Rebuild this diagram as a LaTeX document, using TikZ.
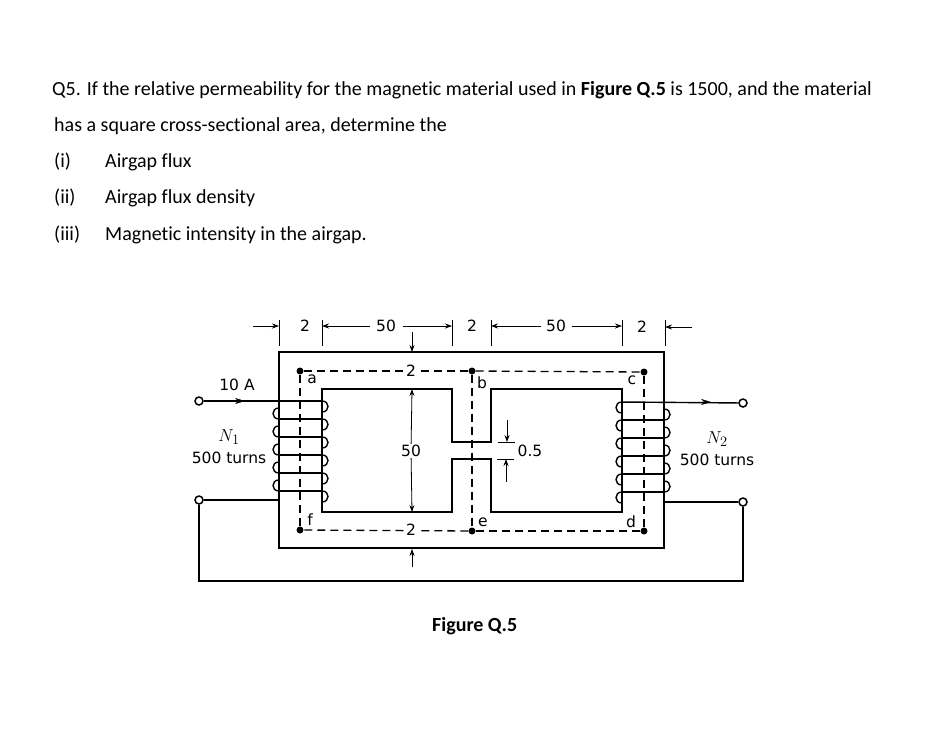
\documentclass[tikz,border=0pt]{standalone}
\usepackage{fontspec}
\setmainfont[Ligatures=CommonOff]{Carlito}
\newfontfamily\figfont{DejaVu Sans}
\usetikzlibrary{arrows.meta}
\tikzset{
    wire/.style={line width=1.4pt},
    dim/.style={line width=0.8pt,-{Stealth[length=7pt,width=5pt]}},
    tick/.style={line width=1pt},
    flux/.style={line width=1.3pt,dash pattern=on 8pt off 5pt},
    pt/.style={circle,fill=black,inner sep=0pt,minimum size=7pt},
    term/.style={circle,draw=black,fill=white,line width=1.5pt,inner sep=0pt,minimum size=8pt},
    qtext/.style={anchor=base west,inner sep=0pt,font=\fontsize{20}{22}\selectfont},
    lab/.style={inner sep=1pt,font=\figfont\fontsize{15.5}{17}\selectfont},
    gaplab/.style={lab,fill=white,inner sep=1pt}
}
\begin{document}
\begin{tikzpicture}[x=1pt,y=-1pt]
    \useasboundingbox (0,0) rectangle (934,728);

    % question
    \node[qtext] (qa) at (52,95) {Q5. If the relative permeability for the magnetic material used in \textbf{Figure Q.5} is 1500, and the material};
    \node[qtext] (qb) at (54,131) {has a square cross-sectional area, determine the};
    \node[qtext] (qc) at (54,167) {(i)};
    \node[qtext] (qd) at (105,167) {Airgap flux};
    \node[qtext] (qe) at (54,203) {(ii)};
    \node[qtext] (qf) at (105,203) {Airgap flux density};
    \node[qtext] (qg) at (54,240) {(iii)};
    \node[qtext] (qh) at (105,240) {Magnetic intensity in the airgap.};
    \node[qtext,font=\fontsize{20}{22}\selectfont\bfseries] (cap) at (432,631) {Figure Q.5};

    % core
    \draw[wire] (279,352) rectangle (664,548);
    \draw[wire] (322,389) -- (452,389) -- (452,442) -- (491,442) -- (491,389) -- (622,389)
        -- (622,512) -- (491,512) -- (491,459) -- (452,459) -- (452,512) -- (322,512) -- cycle;

    % flux path
    \node[pt] (a) at (300,371) {};
    \node[pt] (b) at (472,371) {};
    \node[pt] (c) at (644,372) {};
    \node[pt] (d) at (644,531) {};
    \node[pt] (e) at (472,531) {};
    \node[pt] (f) at (300,530) {};
    \draw[flux] (a) -- (b);
    \draw[flux] (b) -- (c);
    \draw[flux] (c) -- (d);
    \draw[flux] (d) -- (e);
    \draw[flux] (e) -- (f);
    \draw[flux] (f) -- (a);
    \draw[flux] (b) -- (e);
    \node[gaplab] (topt) at (411,371) {2};
    \node[gaplab] (topb) at (411,530) {2};
    \node[lab] (la) at (312,379) {a};
    \node[lab] (lb) at (482,383) {b};
    \node[lab] (lc) at (632,380) {c};
    \node[lab] (ld) at (631,522) {d};
    \node[lab] (le) at (483,522) {e};
    \node[lab] (lf) at (310,520) {f};

    % windings
    \node[term] (ta) at (199,401) {};
    \node[term] (tb) at (199,500) {};
    \node[term] (tc) at (743,403) {};
    \node[term] (td) at (743,502) {};
    \coordinate (sa) at (279,500);
    \coordinate (sb) at (664,502);
    \coordinate (ca) at (322,401);
    \coordinate (cb) at (622,402);
    \coordinate (ba) at (199,581);
    \coordinate (bb) at (743,581);
    \draw[wire] (ta) -- (ca);
    \draw[wire] (cb) -- (tc);
    \draw[wire] (tb) -- (sa);
    \draw[wire] (td) -- (sb);
    \draw[wire] (tb) -- (ba) -- (bb) -- (td);
    \draw[-{Stealth[length=10pt,width=6pt]}] (ta) -- (245,401);
    \draw[-{Stealth[length=10pt,width=6pt]}] (cb) -- (711,402);
    \foreach \y in {401,419,437,455,473,491}
        \draw[wire] (322,\y) .. controls (330,\y) and (330,\y+11) .. (322,\y+11);
    \foreach \y in {419,437,455,473,491} {
        \draw[wire] (279,\y) -- (322,\y);
        \draw[wire] (279,\y) .. controls (271,\y) and (271,\y-11) .. (279,\y-11);
    }
    \foreach \y in {402,420,438,456,474,492}
        \draw[wire] (622,\y) .. controls (614,\y) and (614,\y+11) .. (622,\y+11);
    \foreach \y in {420,438,456,474,492} {
        \draw[wire] (622,\y) -- (664,\y);
        \draw[wire] (664,\y) .. controls (672,\y) and (672,\y-11) .. (664,\y-11);
    }
    \node[lab] (ia) at (237,385) {10 A};
    \node[lab,font=\fontsize{19}{21}\selectfont] (na) at (229,437) {$N_1$};
    \node[lab] (nb) at (229,458) {500 turns};
    \node[lab,font=\fontsize{19}{21}\selectfont] (nc) at (717,439) {$N_2$};
    \node[lab] (nd) at (717,460) {500 turns};

    % dimensions
    \foreach \x in {279,322,452,491,622,665}
        \draw[tick] (\x,320) -- (\x,346);
    \draw[dim] (253,326) -- (279,326);
    \draw[dim] (370,326) -- (322,326);
    \draw[dim] (403,326) -- (452,326);
    \draw[dim] (541,326) -- (491,326);
    \draw[dim] (572,326) -- (622,326);
    \draw[dim] (692,327) -- (665,327);
    \node[lab] (wa) at (305,326) {2};
    \node[lab] (wb) at (386,326) {50};
    \node[lab] (wc) at (472,326) {2};
    \node[lab] (wd) at (556,326) {50};
    \node[lab] (we) at (642,327) {2};
    \draw[dim] (412,332) -- (412,352);
    \draw[dim] (412,567) -- (412,549);
    \node[lab] (hw) at (411,451) {50};
    \draw[dim] (hw) -- (412,389);
    \draw[dim] (hw) -- (412,512);
    \draw[tick] (498,442) -- (515,442);
    \draw[tick] (497,459) -- (514,459);
    \draw[dim] (507,420) -- (507,442);
    \draw[dim] (506,482) -- (506,459);
    \node[lab] (gp) at (530,451) {0.5};
\end{tikzpicture}
\end{document}
